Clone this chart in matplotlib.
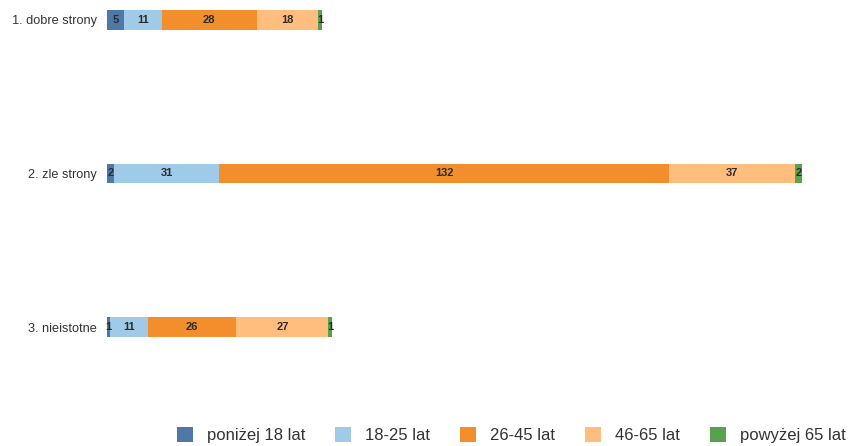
import matplotlib
matplotlib.use("Agg")
import matplotlib.pyplot as plt
import numpy as np

plt.rcParams["font.family"] = ["Liberation Sans", "DejaVu Sans"]

categories = ["1. dobre strony", "2. zle strony", "3. nieistotne"]
groups = ["poniżej 18 lat", "18-25 lat", "26-45 lat", "46-65 lat", "powyżej 65 lat"]
under_18 = [5, 2, 1]
age_18_25 = [11, 31, 11]
age_26_45 = [28, 132, 26]
age_46_65 = [18, 37, 27]
over_65 = [1, 2, 1]
colors = ["#4e79a7", "#a0cbe8", "#f28e2b", "#ffbe7d", "#59a14f"]

series = [under_18, age_18_25, age_26_45, age_46_65, over_65]

W, H = 848, 446
fig = plt.figure(figsize=(W / 100, H / 100), dpi=100)
# axes in pixel coordinates: left 107, right 802, top 10, bottom 337
ax = fig.add_axes([107 / W, 1 - 337 / H, (802 - 107) / W, (337 - 10) / H])

bar_h = 0.13
y = np.arange(len(categories))
left = np.zeros(len(categories))
for vals, col, name in zip(series, colors, groups):
    bars = ax.barh(y, vals, left=left, height=bar_h, color=col, label=name)
    ax.bar_label(bars, labels=[str(v) for v in vals], label_type="center",
                 fontsize=8, fontweight="bold", color="#2b2b2b")
    left += np.array(vals)

ax.set_xlim(0, left.max())
ax.set_ylim(len(categories) - 1 + bar_h / 2, -bar_h / 2)
ax.set_yticks(y)
ax.set_yticklabels(categories, fontsize=9.2, color="#333333")
ax.set_xticks([])
ax.tick_params(axis="y", length=0, pad=7.2)
for s in ax.spines.values():
    s.set_visible(False)

fig.legend(loc="center left", bbox_to_anchor=(177 / W, 1 - 435 / H), ncol=5,
           frameon=False, fontsize=12, handlelength=0.96, handleheight=0.96,
           handletextpad=0.84, columnspacing=1.8, borderpad=0, borderaxespad=0,
           labelcolor="#333333")

fig.savefig("out.png", dpi=100)
